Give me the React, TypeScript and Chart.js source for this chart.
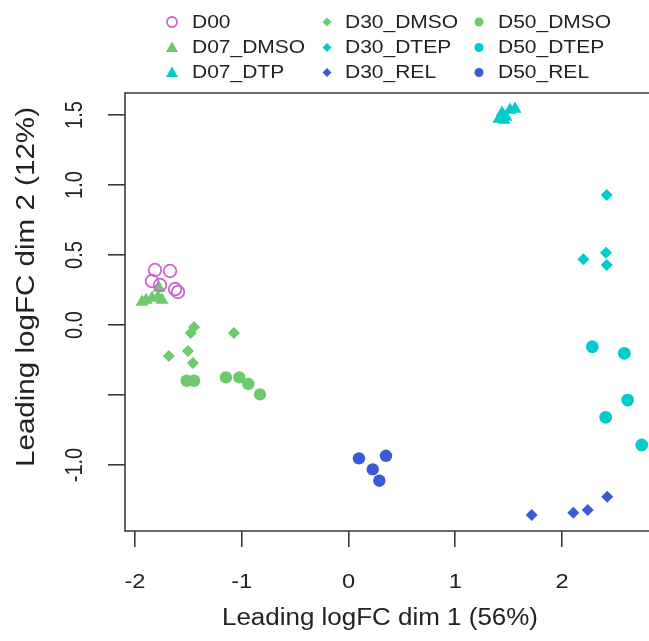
import React, { useEffect, useRef } from 'react';
import { Chart, registerables } from 'chart.js';
Chart.register(...registerables);

// ---- data ----
const groupNames = ['D00', 'D07_DMSO', 'D07_DTP', 'D30_DMSO', 'D30_DTEP', 'D30_REL', 'D50_DMSO', 'D50_DTEP', 'D50_REL'];

const D00_x = [-1.813, -1.672, -1.841, -1.766, -1.625, -1.597];
const D00_y = [0.393, 0.386, 0.314, 0.286, 0.257, 0.236];

const D07_DMSO_x = [-1.934, -1.897, -1.841, -1.785, -1.747, -1.775];
const D07_DMSO_y = [0.164, 0.179, 0.193, 0.2, 0.179, 0.264];

const D07_DTP_x = [1.41, 1.438, 1.475, 1.513, 1.56, 1.457];
const D07_DTP_y = [1.471, 1.514, 1.486, 1.536, 1.543, 1.464];

const D30_DMSO_x = [-1.447, -1.478, -1.073, -1.683, -1.504, -1.457];
const D30_DMSO_y = [-0.014, -0.057, -0.057, -0.221, -0.186, -0.271];

const D30_DTEP_x = [2.419, 2.2, 2.412, 2.419];
const D30_DTEP_y = [0.929, 0.469, 0.516, 0.429];

const D30_REL_x = [1.716, 2.106, 2.241, 2.424];
const D30_REL_y = [-1.357, -1.341, -1.321, -1.226];

const D50_DMSO_x = [-1.516, -1.447, -1.148, -1.023, -0.939, -0.829];
const D50_DMSO_y = [-0.398, -0.398, -0.374, -0.374, -0.421, -0.495];

const D50_DTEP_x = [2.284, 2.584, 2.615, 2.409, 2.747];
const D50_DTEP_y = [-0.155, -0.202, -0.536, -0.659, -0.857];

const D50_REL_x = [0.098, 0.351, 0.227, 0.289];
const D50_REL_y = [-0.952, -0.934, -1.031, -1.112];

const xTickValues = [-2, -1, 0, 1, 2];
const xTickLabels = ['-2', '-1', '0', '1', '2'];
const yTickValues = [-1, -0.5, 0, 0.5, 1, 1.5];
const yTickLabels = ['-1.0', '', '0.0', '0.5', '1.0', '1.5'];

const xTitle = 'Leading logFC dim 1 (56%)';
const yTitle = 'Leading logFC dim 2 (12%)';

// ---- styles ----
const MAGENTA = '#CC66CC';
const GREEN = '#6CCB6C';
const CYAN = '#00CCCC';
const BLUE = '#3A5BD4';
const INK = '#222222';
const FONT = '"Liberation Sans", Arial, sans-serif';

const W = 649;
const H = 641;

const X_MIN = -2.0937;
const X_MAX = 2.815;
const Y_MIN = -1.471;
const Y_MAX = 1.657;

type Style = { color: string; shape: string; radius: number; open?: boolean };
const styles: Style[] = [
  { color: MAGENTA, shape: 'circle', radius: 6.3, open: true },
  { color: GREEN, shape: 'triangle', radius: 7.5 },
  { color: CYAN, shape: 'triangle', radius: 7.5 },
  { color: GREEN, shape: 'rectRot', radius: 6 },
  { color: CYAN, shape: 'rectRot', radius: 6 },
  { color: BLUE, shape: 'rectRot', radius: 6 },
  { color: GREEN, shape: 'circle', radius: 6.2 },
  { color: CYAN, shape: 'circle', radius: 6.4 },
  { color: BLUE, shape: 'circle', radius: 6.2 },
];

const seriesX = [D00_x, D07_DMSO_x, D07_DTP_x, D30_DMSO_x, D30_DTEP_x, D30_REL_x, D50_DMSO_x, D50_DTEP_x, D50_REL_x];
const seriesY = [D00_y, D07_DMSO_y, D07_DTP_y, D30_DMSO_y, D30_DTEP_y, D30_REL_y, D50_DMSO_y, D50_DTEP_y, D50_REL_y];

function drawText(
  ctx: CanvasRenderingContext2D,
  text: string,
  x: number,
  y: number,
  size: number,
  opts: { align?: CanvasTextAlign; sx?: number; angle?: number; length?: number } = {}
) {
  ctx.save();
  ctx.font = `${size}px ${FONT}`;
  ctx.fillStyle = INK;
  ctx.textAlign = opts.align || 'center';
  ctx.textBaseline = 'middle';
  ctx.translate(x, y);
  ctx.scale(opts.sx || 1, 1);
  if (opts.angle) ctx.rotate(opts.angle);
  if (opts.length) {
    const m = ctx.measureText(text).width;
    ctx.scale(opts.length / m, 1);
  }
  ctx.fillText(text, 0, 0);
  ctx.restore();
}

function drawMarker(ctx: CanvasRenderingContext2D, st: Style, x: number, y: number, r: number) {
  ctx.save();
  ctx.beginPath();
  if (st.shape === 'circle') {
    ctx.arc(x, y, r, 0, Math.PI * 2);
  } else if (st.shape === 'triangle') {
    for (let k = 0; k < 3; k++) {
      const a = (k * 2 * Math.PI) / 3;
      const px = x + Math.sin(a) * r;
      const py = y - Math.cos(a) * r;
      if (k === 0) ctx.moveTo(px, py);
      else ctx.lineTo(px, py);
    }
  } else {
    ctx.moveTo(x, y - r);
    ctx.lineTo(x + r, y);
    ctx.lineTo(x, y + r);
    ctx.lineTo(x - r, y);
  }
  ctx.closePath();
  if (st.open) {
    ctx.strokeStyle = st.color;
    ctx.lineWidth = 1.8;
    ctx.stroke();
  } else {
    ctx.fillStyle = st.color;
    ctx.fill();
  }
  ctx.restore();
}

const decorPlugin = {
  id: 'decor',
  afterDraw(chart: any) {
    const ctx: CanvasRenderingContext2D = chart.ctx;
    const a = chart.chartArea;
    const xs = chart.scales.x;
    const ys = chart.scales.y;

    // box
    ctx.save();
    ctx.strokeStyle = '#3a3a3a';
    ctx.lineWidth = 1.6;
    ctx.beginPath();
    ctx.moveTo(W + 5, a.top);
    ctx.lineTo(a.left, a.top);
    ctx.lineTo(a.left, a.bottom);
    ctx.lineTo(W + 5, a.bottom);
    ctx.stroke();
    ctx.restore();

    // x tick labels
    xTickValues.forEach((v, i) => {
      drawText(ctx, xTickLabels[i], xs.getPixelForValue(v), 582, 20, { sx: 1.18 });
    });
    // y tick labels (rotated)
    yTickValues.forEach((v, i) => {
      if (!yTickLabels[i]) return;
      drawText(ctx, yTickLabels[i], 75, ys.getPixelForValue(v), 20, { sx: 1.18, angle: -Math.PI / 2 });
    });

    // axis titles
    drawText(ctx, xTitle, 380, 619, 23, { length: 316 });
    drawText(ctx, yTitle, 27, 287, 26, { angle: -Math.PI / 2, length: 360, sx: 1 });

    // legend
    const symX = [172, 327, 479];
    const txtX = [192, 345, 498];
    const rowY = [22, 47.5, 72.5];
    chart.data.datasets.forEach((ds: any, i: number) => {
      const c = Math.floor(i / 3);
      const r = i % 3;
      const st = styles[i];
      const lr = st.shape === 'triangle' ? 7 : st.shape === 'rectRot' ? 4.5 : st.open ? 5 : 4.5;
      drawMarker(ctx, st, symX[c], rowY[r] + (st.shape === 'triangle' ? 1 : 0), lr);
      drawText(ctx, ds.label, txtX[c], rowY[r] + 1, 17.5, { align: 'left', sx: 1.2 });
    });
  },
};

export default function App() {
  const ref = useRef<HTMLCanvasElement | null>(null);

  useEffect(() => {
    document.body.style.margin = '0';
    document.body.style.overflow = 'hidden';
    const canvas = ref.current;
    if (!canvas) return;

    const datasets = groupNames.map((name, i) => {
      const st = styles[i];
      return {
        label: name,
        data: seriesX[i].map((x, j) => ({ x, y: seriesY[i][j] })),
        pointStyle: st.shape,
        pointRadius: st.radius,
        pointHoverRadius: st.radius,
        backgroundColor: st.open ? 'rgba(0,0,0,0)' : st.color,
        borderColor: st.color,
        pointBorderWidth: st.open ? 1.8 : 0,
        borderWidth: st.open ? 1.8 : 0,
        showLine: false,
      };
    });

    const chart = new Chart(canvas, {
      type: 'scatter',
      data: { datasets },
      options: {
        animation: false,
        responsive: false,
        devicePixelRatio: 1,
        layout: { autoPadding: false, padding: { top: 93, right: 0, left: 0, bottom: 0 } },
        plugins: { legend: { display: false }, tooltip: { enabled: false } },
        scales: {
          x: {
            type: 'linear',
            position: 'bottom',
            min: X_MIN,
            max: X_MAX,
            afterFit: (s: any) => {
              s.height = 110;
            },
            ticks: { stepSize: 1, includeBounds: false, display: false },
            grid: { drawOnChartArea: false, drawTicks: true, tickLength: 16, color: '#3a3a3a', lineWidth: 1.6 },
            border: { display: false },
          },
          y: {
            type: 'linear',
            position: 'left',
            min: Y_MIN,
            max: Y_MAX,
            afterFit: (s: any) => {
              s.width = 125;
            },
            ticks: { stepSize: 0.5, includeBounds: false, display: false },
            grid: { drawOnChartArea: false, drawTicks: true, tickLength: 17, color: '#3a3a3a', lineWidth: 1.6 },
            border: { display: false },
          },
        },
      },
      plugins: [decorPlugin],
    });

    return () => chart.destroy();
  }, []);

  return (
    <div style={{ width: W, height: H, background: '#fff' }}>
      <canvas ref={ref} width={W} height={H} style={{ display: 'block' }} />
    </div>
  );
}
